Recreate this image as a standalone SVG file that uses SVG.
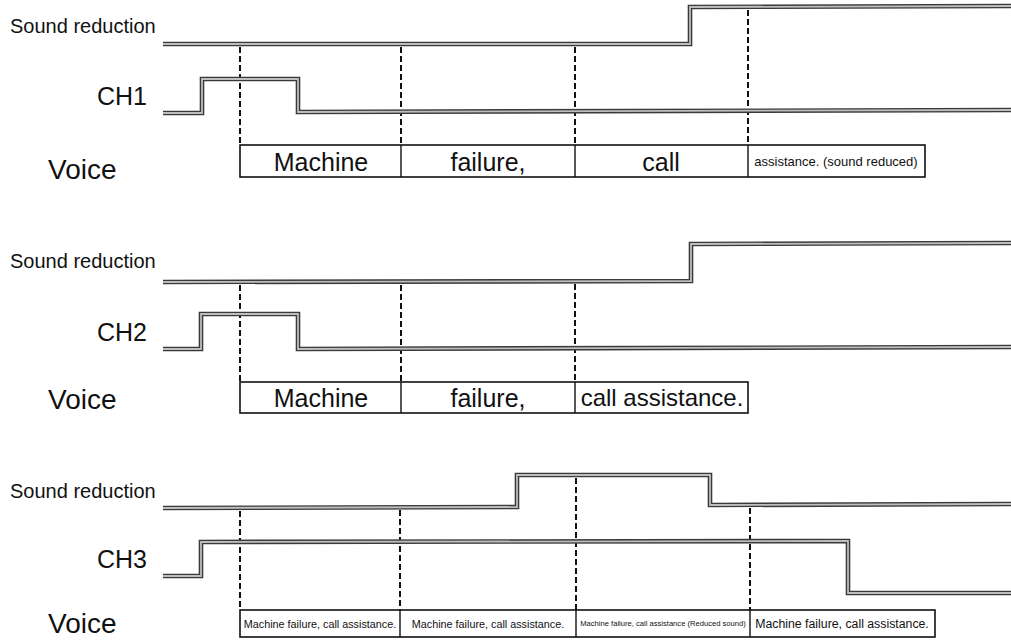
<svg xmlns="http://www.w3.org/2000/svg" width="1011" height="641" viewBox="0 0 1011 641">
<style>
.bg{fill:#fff}
.wo{fill:none;stroke:#3a3a3a;stroke-width:4.6;stroke-linejoin:miter}
.wi{fill:none;stroke:#bdbdbd;stroke-width:1.8;stroke-linejoin:miter}
.dash{stroke:#111;stroke-width:2;stroke-dasharray:6,3;fill:none}
.box{fill:#fff;stroke:#111;stroke-width:1.6}
.div{stroke:#111;stroke-width:1.4}
text{font-family:"Liberation Sans",Arial,sans-serif;fill:#111}
.sr{font-size:20px}
.ch{font-size:25px}
.vo{font-size:28px}
.big{font-size:25px;text-anchor:middle}
.mid{font-size:24px;text-anchor:middle}
.s13{font-size:13px;text-anchor:middle}
.s11{font-size:10.8px;text-anchor:middle}
.s8{font-size:7.6px;text-anchor:middle}
.s12{font-size:12.3px;text-anchor:middle}
</style>
<defs>
<polyline id="sr1" points="163,44 690,44 690,7 1011,6"/>
<polyline id="ch1" points="163,113 202,113 202,79 298,79 298,112 1011,110"/>
<polyline id="sr2" points="163,282 691,281 691,244 1011,243"/>
<polyline id="ch2" points="163,349 201,349 201,314 298,314 298,349 1011,347"/>
<polyline id="sr3" points="163,508 517,507 517,475 710,475 710,505 1011,504"/>
<polyline id="ch3" points="163,576 201,576 201,542 848,541 848,593 1011,593"/>
</defs>
<rect class="bg" x="0" y="0" width="1011" height="641"/>

<g id="connectors">
<line class="dash" x1="240" y1="47" x2="240" y2="145"/>
<line class="dash" x1="401" y1="47" x2="401" y2="145"/>
<line class="dash" x1="575" y1="47" x2="575" y2="145"/>
<line class="dash" x1="748" y1="10" x2="748" y2="145"/>
<line class="dash" x1="240" y1="285" x2="240" y2="382"/>
<line class="dash" x1="401" y1="285" x2="401" y2="382"/>
<line class="dash" x1="575" y1="284" x2="575" y2="382"/>
<line class="dash" x1="240" y1="511" x2="240" y2="610"/>
<line class="dash" x1="400" y1="510" x2="400" y2="610"/>
<line class="dash" x1="576" y1="478" x2="576" y2="610"/>
<line class="dash" x1="750" y1="508" x2="750" y2="610"/>
</g>

<g id="panel1">
<g id="p1-sound-reduction">
<text class="sr" x="10" y="33">Sound reduction</text>
<use href="#sr1" class="wo"/><use href="#sr1" class="wi"/>
</g>
<g id="p1-ch1">
<text class="ch" x="97" y="105">CH1</text>
<use href="#ch1" class="wo"/><use href="#ch1" class="wi"/>
</g>
<g id="p1-voice">
<text class="vo" x="48" y="179">Voice</text>
<rect class="box" x="240" y="145" width="685" height="32"/>
<line class="div" x1="401" y1="145" x2="401" y2="177"/>
<line class="div" x1="575" y1="145" x2="575" y2="177"/>
<line class="div" x1="748" y1="145" x2="748" y2="177"/>
<text class="big" x="321" y="171">Machine</text>
<text class="big" x="488" y="171">failure,</text>
<text class="big" x="661" y="171">call</text>
<text class="s13" x="836" y="166">assistance. (sound reduced)</text>
</g>
</g>

<g id="panel2">
<g id="p2-sound-reduction">
<text class="sr" x="10" y="268">Sound reduction</text>
<use href="#sr2" class="wo"/><use href="#sr2" class="wi"/>
</g>
<g id="p2-ch2">
<text class="ch" x="97" y="341">CH2</text>
<use href="#ch2" class="wo"/><use href="#ch2" class="wi"/>
</g>
<g id="p2-voice">
<text class="vo" x="48" y="409">Voice</text>
<rect class="box" x="240" y="382" width="508" height="31"/>
<line class="div" x1="401" y1="382" x2="401" y2="413"/>
<line class="div" x1="575" y1="382" x2="575" y2="413"/>
<text class="big" x="321" y="407">Machine</text>
<text class="big" x="488" y="407">failure,</text>
<text class="mid" x="662" y="406">call assistance.</text>
</g>
</g>

<g id="panel3">
<g id="p3-sound-reduction">
<text class="sr" x="10" y="498">Sound reduction</text>
<use href="#sr3" class="wo"/><use href="#sr3" class="wi"/>
</g>
<g id="p3-ch3">
<text class="ch" x="97" y="568">CH3</text>
<use href="#ch3" class="wo"/><use href="#ch3" class="wi"/>
</g>
<g id="p3-voice">
<text class="vo" x="48" y="633">Voice</text>
<rect class="box" x="240" y="610" width="695" height="27"/>
<line class="div" x1="400" y1="610" x2="400" y2="637"/>
<line class="div" x1="576" y1="610" x2="576" y2="637"/>
<line class="div" x1="750" y1="610" x2="750" y2="637"/>
<text class="s11" x="320" y="628">Machine failure, call assistance.</text>
<text class="s11" x="488" y="628">Machine failure, call assistance.</text>
<text class="s8" x="663" y="626">Machine failure, call assistance (Reduced sound)</text>
<text class="s12" x="842" y="628">Machine failure, call assistance.</text>
</g>
</g>
</svg>
